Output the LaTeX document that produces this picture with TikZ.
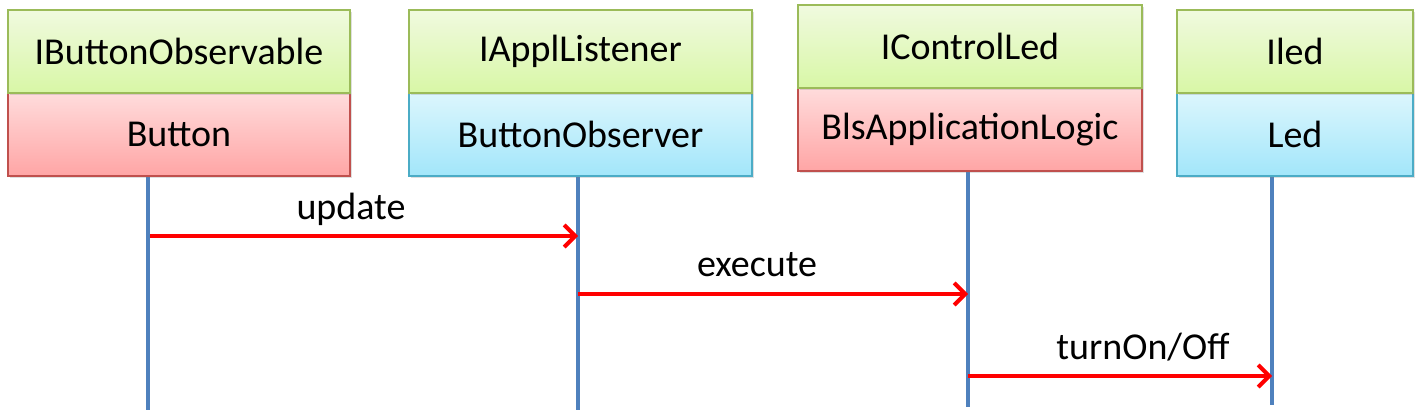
\documentclass[tikz,border=0pt]{standalone}
\usepackage{fontspec}
\setmainfont{Carlito}
\usetikzlibrary{arrows.meta,shadows}
\definecolor{ifborder}{HTML}{9BBB59}
\definecolor{redborder}{HTML}{C0504D}
\definecolor{blueborder}{HTML}{4BACC6}
\definecolor{lifeblue}{HTML}{4F81BD}
\definecolor{greentop}{HTML}{F0FADF}
\definecolor{greenbot}{HTML}{D8F7A6}
\definecolor{redtop}{HTML}{FFDCDC}
\definecolor{redbot}{HTML}{FFA5A5}
\definecolor{bluetop}{HTML}{DCF6FD}
\definecolor{bluebot}{HTML}{A2E6FA}
\begin{document}
\begin{tikzpicture}[x=1pt,y=-1pt,
  font=\fontsize{38}{44}\selectfont,
  box/.style={rectangle, line width=2pt, inner sep=0pt, drop shadow={opacity=0.25, shadow xshift=2pt, shadow yshift=-2pt}},
  iface/.style={box, draw=ifborder, top color=greentop, bottom color=greenbot},
  redcls/.style={box, draw=redborder, top color=redtop, bottom color=redbot},
  bluecls/.style={box, draw=blueborder, top color=bluetop, bottom color=bluebot},
  life/.style={line width=4.5pt, draw=lifeblue},
  msg/.style={line width=4pt, draw=red, -{Straight Barb[length=11pt, width=22pt, line width=4pt]}}]
\useasboundingbox (0,0) rectangle (1421,413);

\coordinate (e1) at (148,410);
\coordinate (e2) at (578,410);
\coordinate (e3) at (968,407);
\coordinate (e4) at (1272,405);

\draw[life] (148,176) to (e1);
\draw[life] (578,176) to (e2);
\draw[life] (968,171) to (e3);
\draw[life] (1272,176) to (e4);

\node[redcls, minimum width=342pt, minimum height=83pt](c1) at (179,134.5) {Button};
\node[iface, minimum width=342pt, minimum height=83pt](i1) at (179,51.5) {IButtonObservable};
\node[bluecls, minimum width=343pt, minimum height=83pt](c2) at (580.5,134.5) {ButtonObserver};
\node[iface, minimum width=343pt, minimum height=83pt](i2) at (580.5,51.5) {IApplListener};
\node[redcls, minimum width=344pt, minimum height=83pt](c3) at (970,129.5) {BlsApplicationLogic};
\node[iface, minimum width=344pt, minimum height=83pt](i3) at (970,46.5) {IControlLed};
\node[bluecls, minimum width=236pt, minimum height=83pt](c4) at (1295,134.5) {Led};
\node[iface, minimum width=236pt, minimum height=83pt](i4) at (1295,51.5) {Iled};

\coordinate (u1) at (150,236);
\coordinate (u2) at (578,236);
\coordinate (x1) at (578,294);
\coordinate (x2) at (968,294);
\coordinate (t1) at (968,376);
\coordinate (t2) at (1272,376);

\draw[msg] (u1) to (u2);
\draw[msg] (x1) to (x2);
\draw[msg] (t1) to (t2);

\node(lu) at (351,209) {update};
\node(lx) at (757,265) {execute};
\node(lt) at (1143,347) {turnOn/Off};

\end{tikzpicture}
\end{document}
